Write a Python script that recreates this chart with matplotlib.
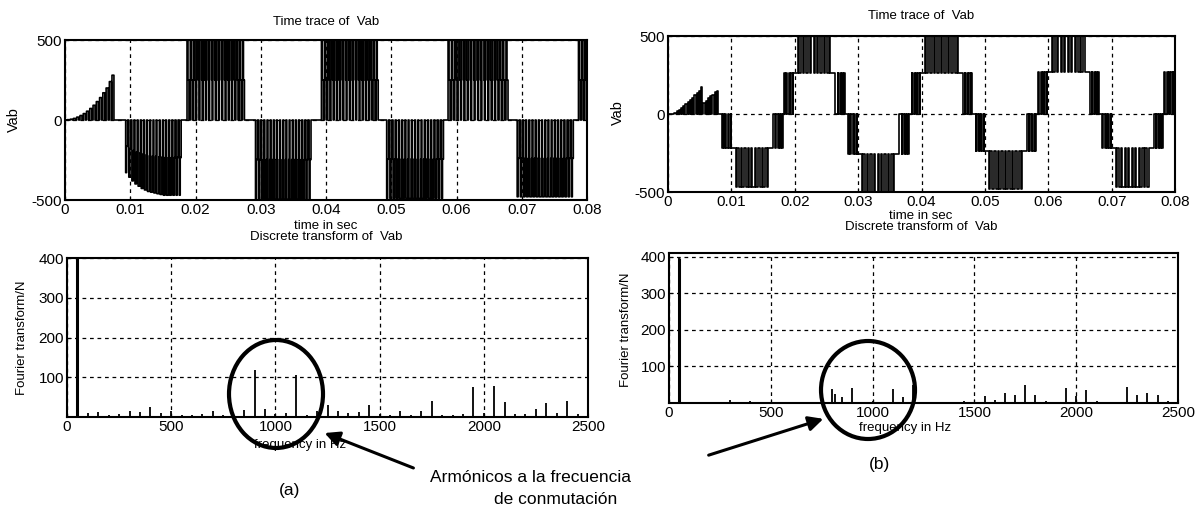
import numpy as np
import matplotlib.pyplot as plt
from matplotlib.patches import Ellipse, FancyArrowPatch

W, H = 1203, 514

# ---------------- (a) time trace (times in ms) ----------------
a_start_on = [0.3, 0.8, 1.3, 1.8, 2.3, 2.8, 3.3, 3.8, 4.3, 4.8, 5.3, 5.8, 6.3, 6.8, 7.2]
a_start_v = [2, 5, 10, 18, 28, 40, 55, 72, 92, 115, 140, 170, 200, 240, 280]

a_hc_t0 = [9.2, 18.6, 29.1, 39.2, 49.2, 58.6, 69.2, 78.6]
a_hc_t1 = [17.9, 27.6, 37.8, 48.1, 58.1, 68.0, 78.0, 80.0]
a_hc_n = [18, 18, 18, 18, 18, 18, 18, 3]
a_hc_sign = [-1, 1, -1, 1, -1, 1, -1, 1]
a_hc_peak = [470, 500, 495, 500, 490, 500, 480, 500]
a_first_env = [0.70, 0.76, 0.81, 0.85, 0.88, 0.91, 0.93, 0.95, 0.96,
               0.97, 0.98, 0.99, 1.0, 1.0, 1.0, 1.0, 1.0, 1.0]
a_full = [0.30, 0.35, 0.45, 0.50, 0.55, 0.50, 0.55, 0.60, 0.55,
          0.55, 0.60, 0.55, 0.50, 0.55, 0.50, 0.45, 0.35, 0.30]
a_half = [0.30, 0.25, 0.20, 0.20, 0.15, 0.20, 0.15, 0.15, 0.20,
          0.15, 0.15, 0.20, 0.20, 0.15, 0.20, 0.20, 0.25, 0.30]

# ---------------- (b) time trace (times in ms) ----------------
b_start_on = [1.0, 1.35, 1.7, 2.05, 2.4, 2.75, 3.1, 3.45, 3.8, 4.15, 4.5, 4.85, 5.2,
              5.6, 5.95, 6.3, 6.65, 7.0, 7.35, 7.7]
b_start_v = [8, 18, 28, 40, 52, 64, 76, 90, 105, 120, 135, 150, 170,
             70, 85, 100, 115, 125, 140, 150]

b_hc_tz = [8.4, 18.2, 28.3, 38.3, 48.4, 58.3, 68.4, 78.2]
b_hc_sign = [-1, 1, -1, 1, -1, 1, -1, 1]
b_hc_inner = [215, 262, 255, 262, 235, 270, 220, 270]
b_hc_outer = [465, 500, 500, 500, 480, 500, 470, 500]
b_seg = [0.0, 1.5, 2.1, 7.6, 8.2, 9.7]   # rise | flat | outer | flat | fall
b_rise_duty = [0.25, 0.45, 0.65, 0.85]
b_fall_duty = [0.85, 0.65, 0.45, 0.25]
b_outer_duty = [0.35, 0.5, 0.6, 0.65, 0.7, 0.7, 0.65, 0.6, 0.5, 0.35]

# ---------------- spectra ----------------
a_freq = [50, 100, 150, 200, 250, 300, 350, 400, 450, 500, 550, 600, 650, 700, 750,
          800, 850, 900, 950, 1000, 1050, 1100, 1150, 1200, 1250, 1300, 1350, 1400,
          1450, 1500, 1550, 1600, 1650, 1700, 1750, 1800, 1850, 1900, 1950, 2000,
          2050, 2100, 2150, 2200, 2250, 2300, 2350, 2400, 2450]
a_amp = [430, 10, 12, 5, 8, 15, 12, 24, 10, 15, 6, 6, 8, 15, 5,
         5, 17, 117, 21, 8, 10, 105, 5, 15, 30, 15, 10, 13,
         30, 8, 6, 15, 5, 15, 41, 6, 5, 8, 75, 10,
         77, 37, 8, 8, 20, 34, 10, 41, 8]

b_freq = [50, 100, 300, 400, 500, 800, 815, 850, 900, 1000, 1100, 1150, 1200, 1450,
          1550, 1600, 1650, 1700, 1750, 1800, 1850, 1950, 2000, 2050, 2100, 2250,
          2300, 2350, 2400, 2450]
b_amp = [396, 3, 8, 5, 4, 38, 25, 17, 40, 5, 38, 17, 50, 5,
         18, 8, 27, 21, 50, 23, 5, 40, 18, 35, 6, 45,
         21, 27, 23, 6]


def pulses(on, v, width):
    pts = [(0.0, 0.0)]
    for t, h in zip(on, v):
        pts += [(t, h), (t + width, 0.0)]
    return pts


def trace_a():
    pts = pulses(a_start_on, a_start_v, 0.3)
    for i in range(len(a_hc_t0)):
        n = a_hc_n[i]
        T = (a_hc_t1[i] - a_hc_t0[i]) / n
        for k in range(n):
            s = a_hc_t0[i] + k * T
            f, h = a_full[k], a_half[k]
            env = a_first_env[k] if i == 0 else 1.0
            full = a_hc_sign[i] * a_hc_peak[i] * env
            off = (1 - f - h) / 2 * T
            pts += [(s, 0.0), (s + off, full), (s + off + f * T, full / 2),
                    (s + off + (f + h) * T, 0.0)]
    pts.append((80.0, 0.0))
    return pts


def pwm(pts, t0, t1, lo, hi, duties):
    T = (t1 - t0) / len(duties)
    for k, d in enumerate(duties):
        s = t0 + k * T
        pts += [(s, lo), (s + (1 - d) / 2 * T, hi), (s + (1 + d) / 2 * T, lo)]


def trace_b():
    pts = pulses(b_start_on, b_start_v, 0.2)
    for i, tz in enumerate(b_hc_tz):
        sg = b_hc_sign[i]
        inner, outer = sg * b_hc_inner[i], sg * b_hc_outer[i]
        s = [tz + x for x in b_seg]
        pwm(pts, s[0], s[1], 0.0, inner, b_rise_duty)
        pts.append((s[1], inner))
        pwm(pts, s[2], s[3], inner, outer, b_outer_duty)
        pts.append((s[3], inner))
        pwm(pts, s[4], s[5], inner, 0.0, b_fall_duty)
        pts.append((s[5], 0.0))
    return pts


plt.rcParams['font.family'] = ['Liberation Sans', 'DejaVu Sans']
plt.rcParams['axes.unicode_minus'] = False
fig = plt.figure(figsize=(W / 100, H / 100), dpi=100)


def px_axes(x0, y0, x1, y1):
    return fig.add_axes([x0 / W, 1 - y1 / H, (x1 - x0) / W, (y1 - y0) / H])


def ftext(x, y, s, **kw):
    fig.text(x / W, 1 - y / H, s, ha='center', va='center', **kw)


def style(ax):
    ax.grid(True, ls=(0, (3, 3)), color='k', lw=0.9)
    ax.set_axisbelow(True)
    ax.tick_params(direction='in', length=3, labelsize=11, pad=2)
    for sp in ax.spines.values():
        sp.set_linewidth(1.5)


def time_panel(ax, pts):
    t = np.array([p[0] for p in pts]) / 1000.0
    v = np.array([p[1] for p in pts])
    ax.plot(t, v, color='k', lw=1.2, drawstyle='steps-post')
    ax.set_xlim(0, 0.08)
    ax.set_ylim(-500, 500)
    ax.set_xticks(np.arange(0, 0.081, 0.01))
    ax.set_xticklabels(['0', '0.01', '0.02', '0.03', '0.04', '0.05', '0.06', '0.07', '0.08'])
    ax.set_yticks([-500, 0, 500])
    style(ax)


def spec_panel(ax, f, a, top):
    ax.vlines(f, 0, a, color='k', lw=1.3)
    ax.vlines(f[:1], 0, a[:1], color='k', lw=2.2)
    ax.set_xlim(0, 2500)
    ax.set_ylim(0, top)
    ax.set_xticks([0, 500, 1000, 1500, 2000, 2500])
    ax.set_yticks([100, 200, 300, 400])
    style(ax)


ax1 = px_axes(65, 40, 587, 200)
time_panel(ax1, trace_a())
ax2 = px_axes(668, 36, 1175, 192)
time_panel(ax2, trace_b())
ax3 = px_axes(67, 258, 588, 417)
spec_panel(ax3, a_freq, a_amp, 400)
ax4 = px_axes(669, 253, 1178, 403)
spec_panel(ax4, b_freq, b_amp, 410)

lab = dict(fontsize=9.5)
ftext(326, 22, 'Time trace of  Vab', **lab)
ftext(921, 16, 'Time trace of  Vab', **lab)
ftext(326, 226, 'time in sec', **lab)
ftext(921, 216, 'time in sec', **lab)
ftext(326, 237, 'Discrete transform of  Vab', **lab)
ftext(921, 227, 'Discrete transform of  Vab', **lab)
ftext(14, 120, 'Vab', rotation=90, fontsize=10.5)
ftext(618, 113, 'Vab', rotation=90, fontsize=10.5)
ftext(22, 338, 'Fourier transform/N', rotation=90, **lab)
ftext(626, 330, 'Fourier transform/N', rotation=90, **lab)
ftext(300, 445, 'frequency in Hz', **lab)
ftext(905, 428, 'frequency in Hz', **lab)

big = dict(fontsize=12.5)
ftext(290, 490, '(a)', **big)
ftext(880, 465, '(b)', **big)
ftext(531, 478, 'Armónicos a la frecuencia', **big)
ftext(556, 500, 'de conmutación', **big)

for cx, cy, rx, ry in [(276, 394, 47, 54), (868, 390, 47, 49)]:
    fig.add_artist(Ellipse((cx / W, 1 - cy / H), 2 * rx / W, 2 * ry / H,
                           transform=fig.transFigure, fill=False, lw=3, color='k'))

for (x0, y0), (x1, y1) in [((416, 469), (322, 432)), ((706, 456), (826, 418))]:
    fig.add_artist(FancyArrowPatch((x0 / W, 1 - y0 / H), (x1 / W, 1 - y1 / H),
                                   transform=fig.transFigure, arrowstyle='-|>',
                                   mutation_scale=22, lw=2.2, color='k'))

fig.savefig('out.png', dpi=100)
